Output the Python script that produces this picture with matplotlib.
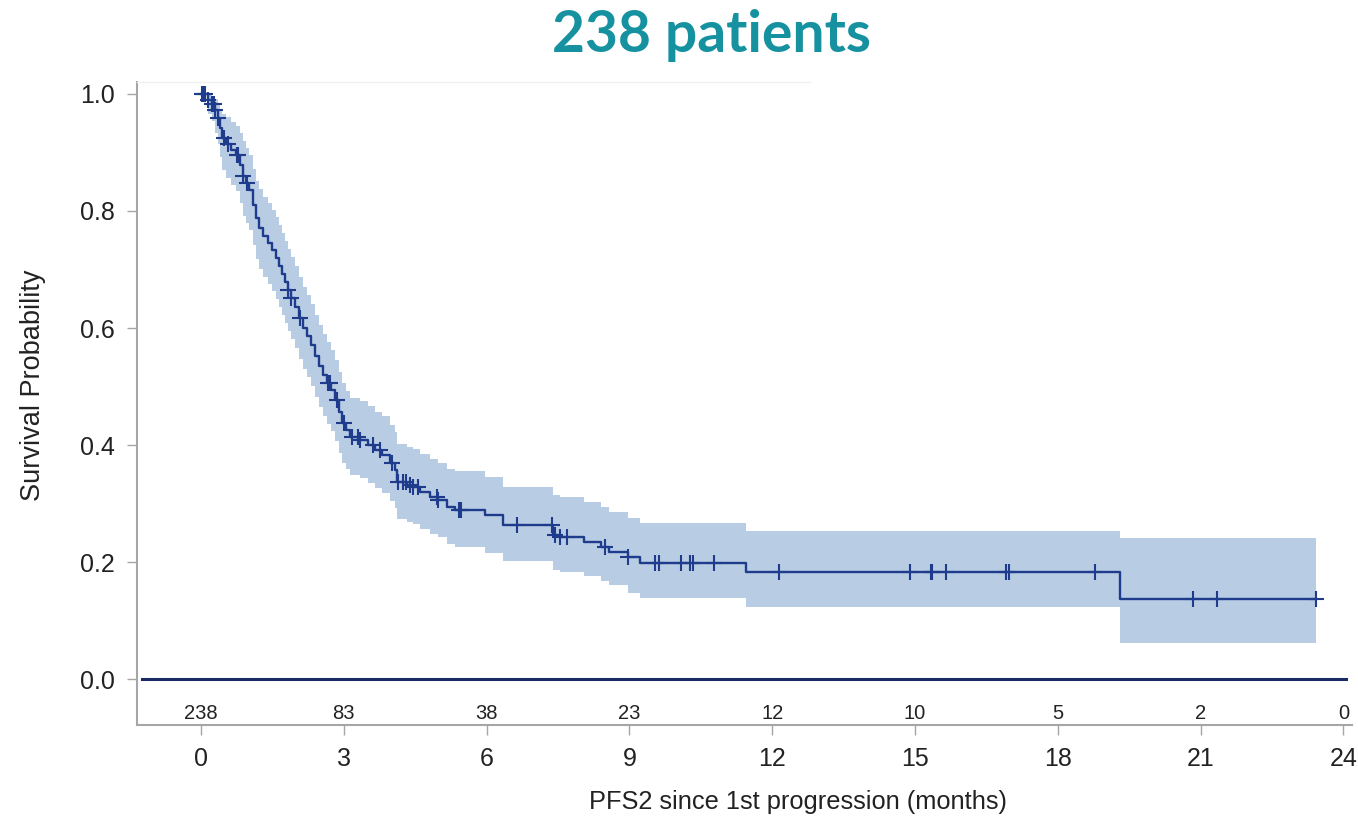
import numpy as np
import matplotlib
matplotlib.use("Agg")
import matplotlib.pyplot as plt

# ---------------- data ----------------
times = [0.00, 0.15, 0.23, 0.29, 0.36, 0.40, 0.44, 0.53, 0.63, 0.74, 0.82, 0.88, 0.95, 1.01,
         1.09, 1.16, 1.22, 1.30, 1.41, 1.49, 1.58, 1.64, 1.70, 1.76, 1.83, 1.89, 1.97, 2.06,
         2.14, 2.23, 2.31, 2.39, 2.48, 2.56, 2.65, 2.73, 2.82, 2.90, 2.96, 3.05, 3.13, 3.34,
         3.51, 3.66, 3.80, 3.97, 4.08, 4.12, 4.33, 4.45, 4.60, 4.81, 4.98, 5.17, 5.34, 5.97,
         6.34, 7.39, 7.54, 8.05, 8.40, 8.57, 8.97, 9.22, 11.45, 19.31, 23.42]
surv = [1.000, 0.990, 0.983, 0.973, 0.959, 0.942, 0.925, 0.915, 0.904, 0.896, 0.879, 0.860, 0.848, 0.836,
        0.810, 0.788, 0.771, 0.757, 0.745, 0.733, 0.720, 0.706, 0.692, 0.679, 0.665, 0.651, 0.636, 0.617,
        0.600, 0.586, 0.571, 0.552, 0.535, 0.520, 0.506, 0.494, 0.477, 0.456, 0.438, 0.426, 0.414, 0.409,
        0.400, 0.391, 0.383, 0.369, 0.357, 0.337, 0.332, 0.328, 0.320, 0.311, 0.306, 0.294, 0.289, 0.280,
        0.263, 0.246, 0.243, 0.234, 0.226, 0.217, 0.209, 0.198, 0.183, 0.137, 0.137]
ci_lower = [1.000, 0.965, 0.953, 0.933, 0.914, 0.892, 0.870, 0.857, 0.844, 0.834, 0.814, 0.792, 0.780, 0.768,
            0.742, 0.718, 0.701, 0.687, 0.675, 0.663, 0.650, 0.636, 0.622, 0.609, 0.595, 0.581, 0.566, 0.547,
            0.530, 0.516, 0.501, 0.482, 0.465, 0.450, 0.436, 0.424, 0.407, 0.387, 0.370, 0.359, 0.348, 0.343,
            0.335, 0.326, 0.318, 0.305, 0.293, 0.274, 0.269, 0.265, 0.257, 0.248, 0.243, 0.231, 0.225, 0.216,
            0.202, 0.186, 0.183, 0.176, 0.168, 0.160, 0.147, 0.138, 0.123, 0.062, 0.062]
ci_upper = [1.000, 0.999, 0.996, 0.991, 0.984, 0.975, 0.965, 0.960, 0.952, 0.946, 0.934, 0.920, 0.908, 0.896,
            0.872, 0.852, 0.837, 0.824, 0.813, 0.802, 0.790, 0.776, 0.762, 0.749, 0.735, 0.721, 0.706, 0.687,
            0.670, 0.656, 0.641, 0.622, 0.605, 0.590, 0.576, 0.563, 0.546, 0.525, 0.506, 0.493, 0.481, 0.476,
            0.466, 0.457, 0.449, 0.435, 0.423, 0.402, 0.397, 0.393, 0.385, 0.376, 0.370, 0.359, 0.355, 0.346,
            0.328, 0.315, 0.311, 0.302, 0.294, 0.285, 0.275, 0.267, 0.253, 0.241, 0.241]
censor_times = [0.02, 0.04, 0.08, 0.15, 0.23, 0.27, 0.29, 0.36, 0.48, 0.57, 0.76, 0.78, 0.88, 0.97,
                1.83, 1.89, 2.08, 2.67, 2.71, 2.86, 3.00, 3.17, 3.30, 3.34, 3.61, 3.76, 4.01, 4.14,
                4.24, 4.31, 4.39, 4.45, 4.56, 4.96, 4.98, 5.42, 5.46, 6.64, 7.37, 7.44, 7.54, 7.69,
                8.49, 8.97, 9.54, 9.62, 10.08, 10.27, 10.34, 10.78, 12.14, 14.89, 15.34, 15.36,
                15.65, 16.91, 16.97, 18.78, 20.84, 21.34, 23.42]
risk_times = [0, 3, 6, 9, 12, 15, 18, 21, 24]
at_risk = [238, 83, 38, 23, 12, 10, 5, 2, 0]
x_ticks = [0, 3, 6, 9, 12, 15, 18, 21, 24]
y_ticks = [0.0, 0.2, 0.4, 0.6, 0.8, 1.0]

# ---------------- style ----------------
LINE = "#1f3c8c"
BAND = "#b8cce4"
SPINE = "#a6a6a6"
ZERO = "#1b2a63"
TITLE = "#1591a0"
FONT = "Liberation Sans"

fig = plt.figure(figsize=(13.58, 8.17), dpi=100)
ax = fig.add_axes([137 / 1358, 92 / 817, 1215 / 1358, 643 / 817])

t_arr = np.array(times)
s_arr = np.array(surv)

ax.fill_between(t_arr, ci_lower, ci_upper, step="post", color=BAND, linewidth=0, zorder=1)
ax.step(t_arr, s_arr, where="post", color=LINE, linewidth=1.7, zorder=3)

c_arr = np.array(censor_times)
idx = np.searchsorted(t_arr, c_arr, side="right") - 1
ax.plot(c_arr, s_arr[idx], linestyle="none", marker="+", markersize=12,
        markeredgewidth=1.5, color=LINE, zorder=4)

# zero reference line
ax.plot([-1.24, 24.05], [0, 0], color=ZERO, linewidth=2.2, zorder=2)

# number at risk inside the axes
for tx, n in zip(risk_times, at_risk):
    ax.text(tx, -0.059, str(n), ha="center", va="center", fontsize=14.5,
            family=FONT, color="#222222")

ax.set_xlim(-1.345, 24.18)
ax.set_ylim(-0.0786, 1.0205)
ax.set_xticks(x_ticks)
ax.set_yticks(y_ticks)
ax.set_xticklabels([str(v) for v in x_ticks], family=FONT, fontsize=18, color="#222222")
ax.set_yticklabels([f"{v:.1f}" for v in y_ticks], family=FONT, fontsize=18, color="#222222")

for side in ["top", "right"]:
    ax.spines[side].set_visible(False)
for side in ["left", "bottom"]:
    ax.spines[side].set_color(SPINE)
    ax.spines[side].set_linewidth(1.5)
ax.tick_params(axis="x", direction="out", length=7, width=1.0, color=SPINE, pad=9)
ax.tick_params(axis="y", direction="out", length=7, width=1.0, color=SPINE, pad=9)

fig.text(33 / 1358, 1 - 385 / 817, "Survival Probability", rotation=90, ha="center",
         va="center", fontsize=19.5, family=FONT, color="#222222")
fig.text(798 / 1358, 1 - 802 / 817, "PFS2 since 1st progression (months)", ha="center",
         va="center", fontsize=18.3, family=FONT, color="#222222")

fig.text(712 / 1358, 1 - 36 / 817, "238 patients", ha="center", va="center",
         fontsize=41, fontweight="bold", family="Lato", color=TITLE)

# faint top border line of original slide crop
fig.add_artist(plt.Line2D([137 / 1358, 810 / 1358], [1 - 82 / 817, 1 - 82 / 817],
                          color="#f0f0f0", linewidth=1.0))

fig.savefig("out.png", dpi=100, facecolor="white")
